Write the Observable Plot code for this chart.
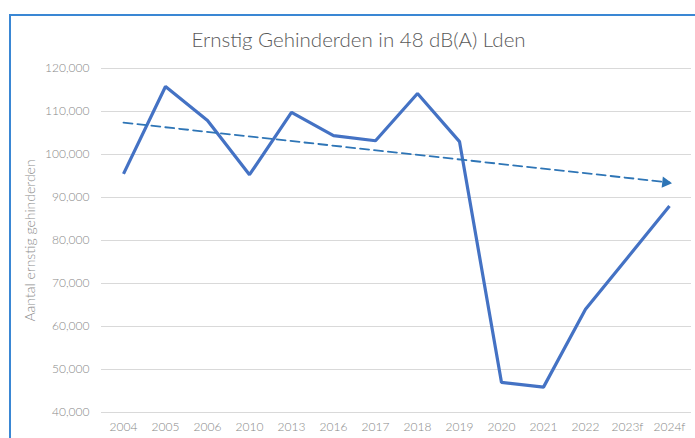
<!DOCTYPE html>
<html>
<head>
<meta charset="utf-8">
<script src="https://cdn.jsdelivr.net/npm/d3@7"></script>
<script src="https://cdn.jsdelivr.net/npm/@observablehq/plot@0.6"></script>
<style>
  html, body { margin: 0; padding: 0; background: #fff; }
  #wrap { position: relative; width: 695px; height: 438px; overflow: hidden; }
  #frame { position: absolute; left: 9px; top: 14px; width: 700px; height: 440px;
           border-top: 2px solid #3A87D4; border-left: 2px solid #3A87D4; box-sizing: border-box; }
  #chart { position: absolute; left: 0; top: 0; }
</style>
</head>
<body>
<div id="wrap"><div id="frame"></div><div id="chart"></div></div>
<script>
const title = "Ernstig Gehinderden in 48 dB(A) Lden";
const yLabel = "Aantal ernstig gehinderden";
const years = ["2004","2005","2006","2010","2013","2016","2017","2018","2019","2020","2021","2022","2023f","2024f"];
const values = [95500, 115800, 107900, 95300, 109800, 104400, 103200, 114200, 103000, 47000, 45900, 64000, 76000, 88000];
const trendYears = ["2004","2024f"];
const trendValues = [107400, 93500];
const yTicks = [40000, 50000, 60000, 70000, 80000, 90000, 100000, 110000, 120000];

const data = years.map((y, i) => ({year: y, value: values[i]}));
const trend = trendYears.map((y, i) => ({year: y, value: trendValues[i]}));

const plot = Plot.plot({
  width: 695,
  height: 438,
  marginLeft: 101,
  marginRight: 4,
  marginTop: 68,
  marginBottom: 26,
  style: {fontFamily: "Lato, 'Open Sans', sans-serif", fontSize: "12px", background: "transparent", color: "#8c8c8c"},
  x: {type: "point", domain: years, padding: 0.5, label: null},
  y: {domain: [40000, 120000], label: null},
  marks: [
    Plot.gridY(yTicks, {stroke: "#d9d9d9", strokeOpacity: 1, strokeWidth: 1.2}),
    Plot.axisY(yTicks, {tickSize: 0, tickPadding: 12, tickFormat: d3.format(","), fill: "#888888", fontWeight: 300, label: null}),
    Plot.axisX({tickSize: 0, tickPadding: 10, fill: "#888888", fontWeight: 300, label: null}),
    Plot.line(data, {x: "year", y: "value", stroke: "#4472C4", strokeWidth: 3.2, strokeLinejoin: "miter", strokeLinecap: "butt"}),
    Plot.line(trend, {x: "year", y: "value", stroke: "#2E75B6", strokeWidth: 1.8, strokeDasharray: "9,5"}),
    Plot.dot(trend.slice(1), {x: "year", y: "value", symbol: "triangle", r: 4.2, fill: "#2E75B6", stroke: null, rotate: 96, dx: -4}),
    Plot.text([title], {frameAnchor: "top-left", dx: 257, dy: -28, textAnchor: "middle", lineAnchor: "middle", fontSize: 20.5, fontWeight: 300, fill: "#595959"}),
    Plot.text([yLabel], {frameAnchor: "left", dx: -71, rotate: -90, textAnchor: "middle", lineAnchor: "middle", fontSize: 14, fontWeight: 300, fill: "#8c8c8c"})
  ]
});
document.getElementById("chart").appendChild(plot);
</script>
</body>
</html>
